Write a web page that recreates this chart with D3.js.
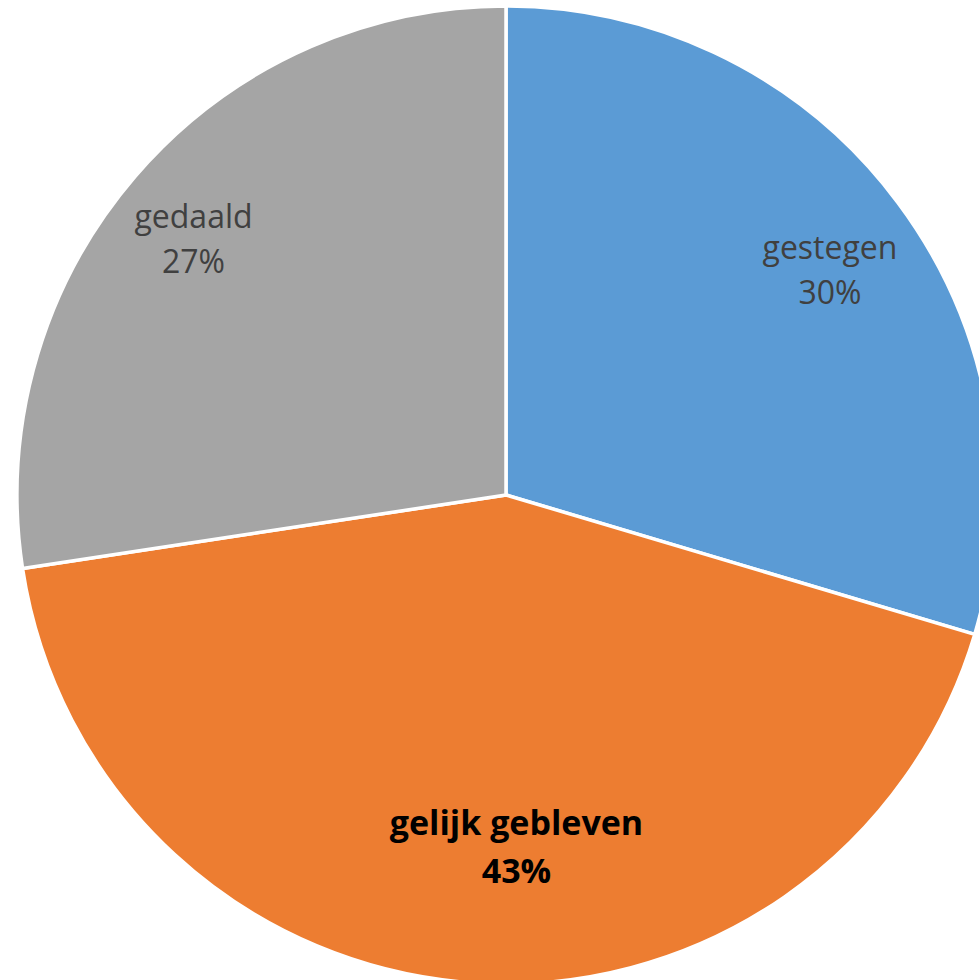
<!DOCTYPE html>
<html lang="nl">
<head>
    <meta charset="UTF-8">
    <title>Taartdiagram</title>
    <script src="https://d3js.org/d3.v7.min.js"></script>
    <style>
        body { margin: 0; background: #fff; overflow: hidden; }
        svg text { font-family: "Open Sans", sans-serif; }
    </style>
</head>
<body>
    <div id="chart"></div>
    <script>
        // data
        const categories = ["gestegen", "gelijk gebleven", "gedaald"];
        const values = [29.6, 43.0, 27.4];
        const colors = ["#5B9BD5", "#ED7D31", "#A5A5A5"];
        const highlighted = "gelijk gebleven";

        const W = 979, H = 980;
        const cx = 506, cy = 495, R = 489;

        // label placement: fraction of radius, angle nudge (degrees) from slice middle
        const labelPlace = {
            "gestegen": { r: 0.814, nudge: 1.2 },
            "gelijk gebleven": { r: 0.706, nudge: -5.7 },
            "gedaald": { r: 0.834, nudge: -0.7 }
        };

        const svg = d3.select("#chart").append("svg")
            .attr("width", W)
            .attr("height", H);

        const g = svg.append("g").attr("transform", `translate(${cx},${cy})`);

        const data = categories.map((c, i) => ({ name: c, value: values[i], color: colors[i] }));

        const pie = d3.pie().sort(null).value(d => d.value);
        const arc = d3.arc().innerRadius(0).outerRadius(R);
        const arcs = pie(data);

        g.selectAll("path")
            .data(arcs)
            .enter()
            .append("path")
            .attr("d", arc)
            .attr("fill", d => d.data.color)
            .attr("stroke", "#fff")
            .attr("stroke-width", 3.5)
            .attr("stroke-linejoin", "round");

        const fmt = d3.format(".0f");

        const labels = g.selectAll(".lbl")
            .data(arcs)
            .enter()
            .append("text")
            .attr("class", "lbl")
            .attr("transform", d => {
                const p = labelPlace[d.data.name];
                const a = (d.startAngle + d.endAngle) / 2 + p.nudge * Math.PI / 180;
                const r = R * p.r;
                return `translate(${r * Math.sin(a)},${-r * Math.cos(a)})`;
            })
            .attr("text-anchor", "middle")
            .style("font-size", d => d.data.name === highlighted ? "34px" : "32px")
            .style("font-weight", d => d.data.name === highlighted ? "bold" : "normal")
            .attr("fill", d => d.data.name === highlighted ? "#000" : "#404040");

        labels.append("tspan")
            .attr("x", 0)
            .attr("dy", "-0.15em")
            .text(d => d.data.name);

        labels.append("tspan")
            .attr("x", 0)
            .attr("dy", "1.4em")
            .text(d => fmt(d.data.value) + "%");
    </script>
</body>
</html>
